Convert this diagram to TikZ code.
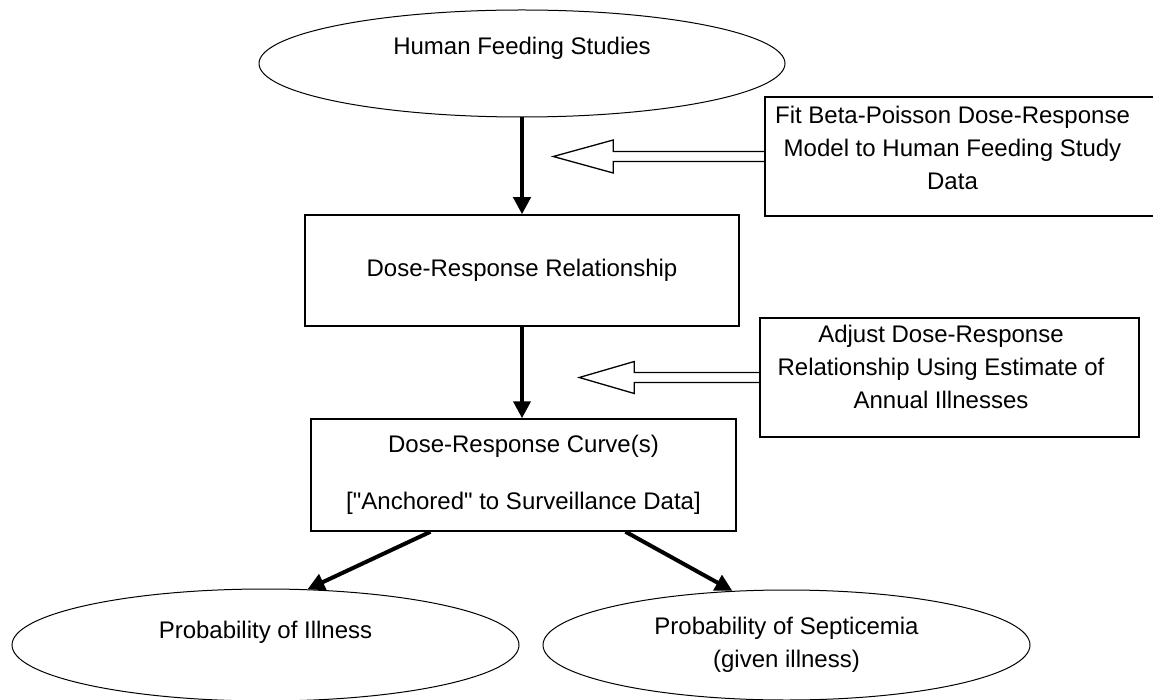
\documentclass[tikz,border=0pt]{standalone}
\usepackage{fontspec}
\setmainfont{Liberation Sans}
\usetikzlibrary{positioning, shapes.geometric, arrows.meta}

\begin{document}
\begin{tikzpicture}[x=1pt, y=-1pt,
    every node/.style={font=\fontsize{24}{33}\selectfont, align=center, inner sep=0pt},
    oval/.style={draw, ellipse, line width=1pt},
    stepbox/.style={draw, rectangle, line width=1.5pt},
    notebox/.style={draw, rectangle, line width=1.5pt},
    flow/.style={line width=4pt, -{Triangle[length=17pt, width=17pt]}},
    hollow/.style={line width=1.3pt, line join=miter}]
    \useasboundingbox (0,0) rectangle (1153,700);
    \node[oval, minimum width=526, minimum height=107] (hfs) at (522,63.5) {\raisebox{9pt}[0pt][0pt]{Human Feeding Studies}};
    \node[stepbox, minimum width=434, minimum height=111] (dsr) at (522,270.5) {Dose-Response Relationship};
    \node[stepbox, minimum width=425, minimum height=112, font=\fontsize{24}{28.5}\selectfont] (dsc) at (523.5,475) {Dose-Response Curve(s)\\ \mbox{}\\ {[\textquotedbl Anchored\textquotedbl{} to Surveillance Data]}};
    \node[notebox, minimum width=392, minimum height=119] (fit) at (961,156.5) {};
    \node[xshift=-8.5pt, yshift=8.5pt] (fittext) at (fit) {Fit Beta-Poisson Dose-Response\\Model to Human Feeding Study\\Data};
    \node[notebox, minimum width=379, minimum height=119] (adj) at (949.5,377.5) {};
    \node[xshift=-8.5pt, yshift=10.5pt] (adjtext) at (adj) {Adjust Dose-Response\\Relationship Using Estimate of\\Annual Illnesses};
    \node[oval, minimum width=507, minimum height=112] (ill) at (265.5,645) {\raisebox{6.5pt}[0pt][0pt]{Probability of Illness}};
    \node[oval, minimum width=487, minimum height=110] (sep) at (786.5,645) {Probability of Septicemia\\(given illness)};
    \coordinate[left=211pt of fit.west] (tipA);
    \coordinate[left=180pt of adj.west] (tipB);
    \draw[flow] (hfs) -- (dsr);
    \draw[flow] (dsr.south) -- (dsr.south |- dsc.north);
    \draw[flow] ([xshift=-93pt]dsc.south) -- (ill.53);
    \draw[flow] ([xshift=102pt]dsc.south) -- (sep.135);
    \draw[hollow] ([yshift=5pt]fit.west) -- ([xshift=60pt, yshift=5pt]tipA) -- ([xshift=60pt, yshift=16.5pt]tipA) -- (tipA) -- ([xshift=60pt, yshift=-16.5pt]tipA) -- ([xshift=60pt, yshift=-5pt]tipA) -- ([yshift=-5pt]fit.west);
    \draw[hollow] ([yshift=5pt]adj.west) -- ([xshift=55pt, yshift=5pt]tipB) -- ([xshift=55pt, yshift=16pt]tipB) -- (tipB) -- ([xshift=55pt, yshift=-16pt]tipB) -- ([xshift=55pt, yshift=-5pt]tipB) -- ([yshift=-5pt]adj.west);
\end{tikzpicture}
\end{document}
